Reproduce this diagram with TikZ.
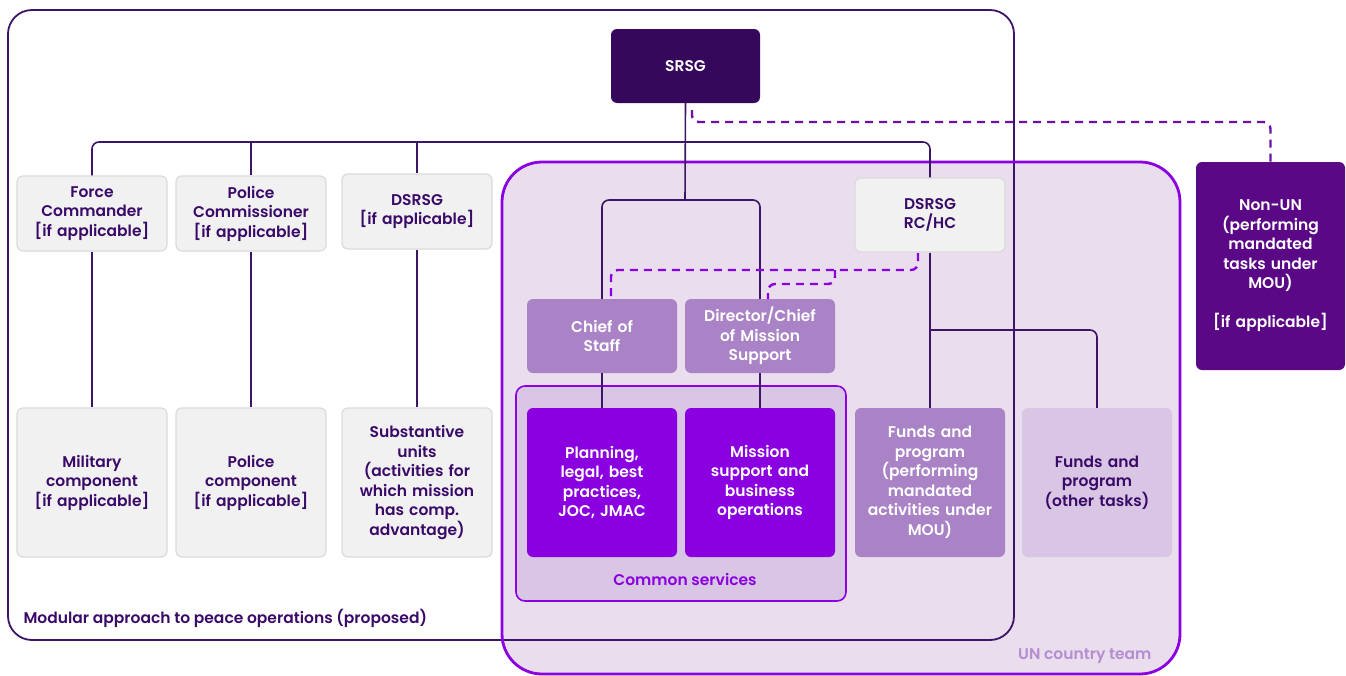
\documentclass[tikz,border=0pt]{standalone}
\usepackage{fontspec}
\setmainfont{Poppins}[BoldFont={Poppins SemiBold}]
\definecolor{srsgfill}{HTML}{36085C}
\definecolor{ink}{HTML}{3A0A68}
\definecolor{wire}{HTML}{3D1566}
\definecolor{vivid}{HTML}{8A00E0}
\definecolor{midfill}{HTML}{A983C6}
\definecolor{lightfill}{HTML}{D9C5E4}
\definecolor{teamfill}{HTML}{E9DDEE}
\definecolor{greyfill}{HTML}{F1F1F1}
\definecolor{greyline}{HTML}{DADADA}
\definecolor{nonunfill}{HTML}{5A0886}
\definecolor{dashdark}{HTML}{6A12A4}
\definecolor{teamlabel}{HTML}{B48ED0}
\tikzset{
  unit/.style={rectangle, rounded corners=6pt, minimum width=150pt, text width=144pt,
    align=center, inner sep=0pt, font=\bfseries\fontsize{15.5}{19.5}\selectfont},
  greybox/.style={unit, fill=greyfill, draw=greyline, line width=1.2pt, text=ink},
  midbox/.style={unit, fill=midfill, text=white},
  vividbox/.style={unit, fill=vivid, text=white},
  lightbox/.style={unit, fill=lightfill, text=ink},
  conn/.style={draw=wire, line width=1.6pt, rounded corners=7pt},
  dashlink/.style={line width=2.4pt, dash pattern=on 8pt off 6pt, rounded corners=7pt},
  caption/.style={font=\bfseries\fontsize{15.5}{19}\selectfont},
}
\begin{document}
\begin{tikzpicture}[x=1pt,y=-1pt]
\useasboundingbox (0,0) rectangle (1346,675);

% UN country team area (fill)
\fill[teamfill, rounded corners=40pt] (502,162) rectangle (1180,674);
% modular peace operation frame
\draw[wire, line width=1.8pt, rounded corners=24pt] (8,10) rectangle (1014,640);
\node[anchor=west, text=ink, caption] (modlabel) at (20,618) {Modular approach to peace operations (proposed)};
% UN country team border
\draw[vivid, line width=2.8pt, rounded corners=40pt] (502,162) rectangle (1180,674);
\node[anchor=east, text=teamlabel, caption] (teamlab) at (1155,656) {UN country team};

% common services frame
\draw[vivid, fill=lightfill, line width=1.6pt, rounded corners=9pt] (516,386) rectangle (846,601);
\node[text=vivid, caption] (comlab) at (685,579) {Common services};

% leadership
\node[unit, fill=srsgfill, text=white, minimum width=149pt, minimum height=74pt] (srsg) at (685.5,66) {SRSG};

\node[greybox, minimum height=75pt] (fc) at (92,213.5) {Force\\Commander\\{[if applicable]}};
\node[greybox, minimum height=75pt] (pc) at (251,213.5) {Police\\Commissioner\\{[if applicable]}};
\node[greybox, minimum height=75pt] (ds) at (417,211.5) {DSRSG\\{[if applicable]}};
\node[greybox, minimum height=74pt] (rchc) at (930,215) {DSRSG\\RC/HC};

\node[greybox, minimum height=149pt] (mil) at (92,482.5) {Military\\component\\{[if applicable]}};
\node[greybox, minimum height=149pt] (pol) at (251,482.5) {Police\\component\\{[if applicable]}};
\node[greybox, minimum height=149pt] (sub) at (417,482.5) {Substantive\\units\\(activities for\\which mission\\has comp.\\advantage)};

\node[midbox, minimum height=74pt] (cos) at (602,336) {Chief of\\Staff};
\node[midbox, minimum height=74pt] (dir) at (760,336) {Director/Chief\\of Mission\\Support};

\node[vividbox, minimum height=149pt] (plan) at (602,482.5) {Planning,\\legal, best\\practices,\\JOC, JMAC\\[18pt]};
\node[vividbox, minimum height=149pt] (msup) at (760,482.5) {Mission\\support and\\business\\operations\\[18pt]};

\node[midbox, minimum height=149pt] (fund1) at (930,482.5) {Funds and\\program\\(performing\\mandated\\activities under\\MOU)};
\node[lightbox, minimum height=149pt] (fund2) at (1097,482.5) {Funds and\\program\\(other tasks)};

\node[unit, fill=nonunfill, text=white, minimum width=149pt, minimum height=208pt] (nonun) at (1270.5,266) {Non-UN\\(performing\\mandated\\tasks under\\MOU)\\[19.5pt]{[if applicable]}};

% reporting lines
\coordinate (bus) at (685,142);
\coordinate (fork) at (685,200);
\coordinate (split) at (930,330);
\draw[conn] (fc.north) -- (fc.north |- bus) -- (rchc.north |- bus) -- (rchc.north);
\draw[conn] (pc.north) -- (pc.north |- bus);
\draw[conn] (ds.north) -- (ds.north |- bus);
\draw[conn] (srsg.south) -- (fork);
\draw[conn] (cos.north) -- (cos.north |- fork) -- (dir.north |- fork) -- (dir.north);
\draw[conn] (fc.south) -- (mil.north);
\draw[conn] (pc.south) -- (pol.north);
\draw[conn] (ds.south) -- (sub.north);
\draw[conn] (cos.south) -- (plan.north);
\draw[conn] (dir.south) -- (msup.north);
\draw[conn] (rchc.south) -- (fund1.north);
\draw[conn] (split) -- (fund2.north |- split) -- (fund2.north);

% coordination lines
\coordinate (srsgtap) at (692,110);
\draw[dashlink, dashdark] (srsgtap) -- (692,122) -- (nonun.north |- 0,122) -- (nonun.north);
\coordinate (rctap) at (918,253);
\coordinate (dirtap) at (835,270);
\draw[dashlink, vivid] (rctap) -- (918,270) -- (611,270) -- (611,299);
\draw[dashlink, vivid] (dirtap) -- (835,284) -- (768,284) -- (768,299);
\end{tikzpicture}
\end{document}
